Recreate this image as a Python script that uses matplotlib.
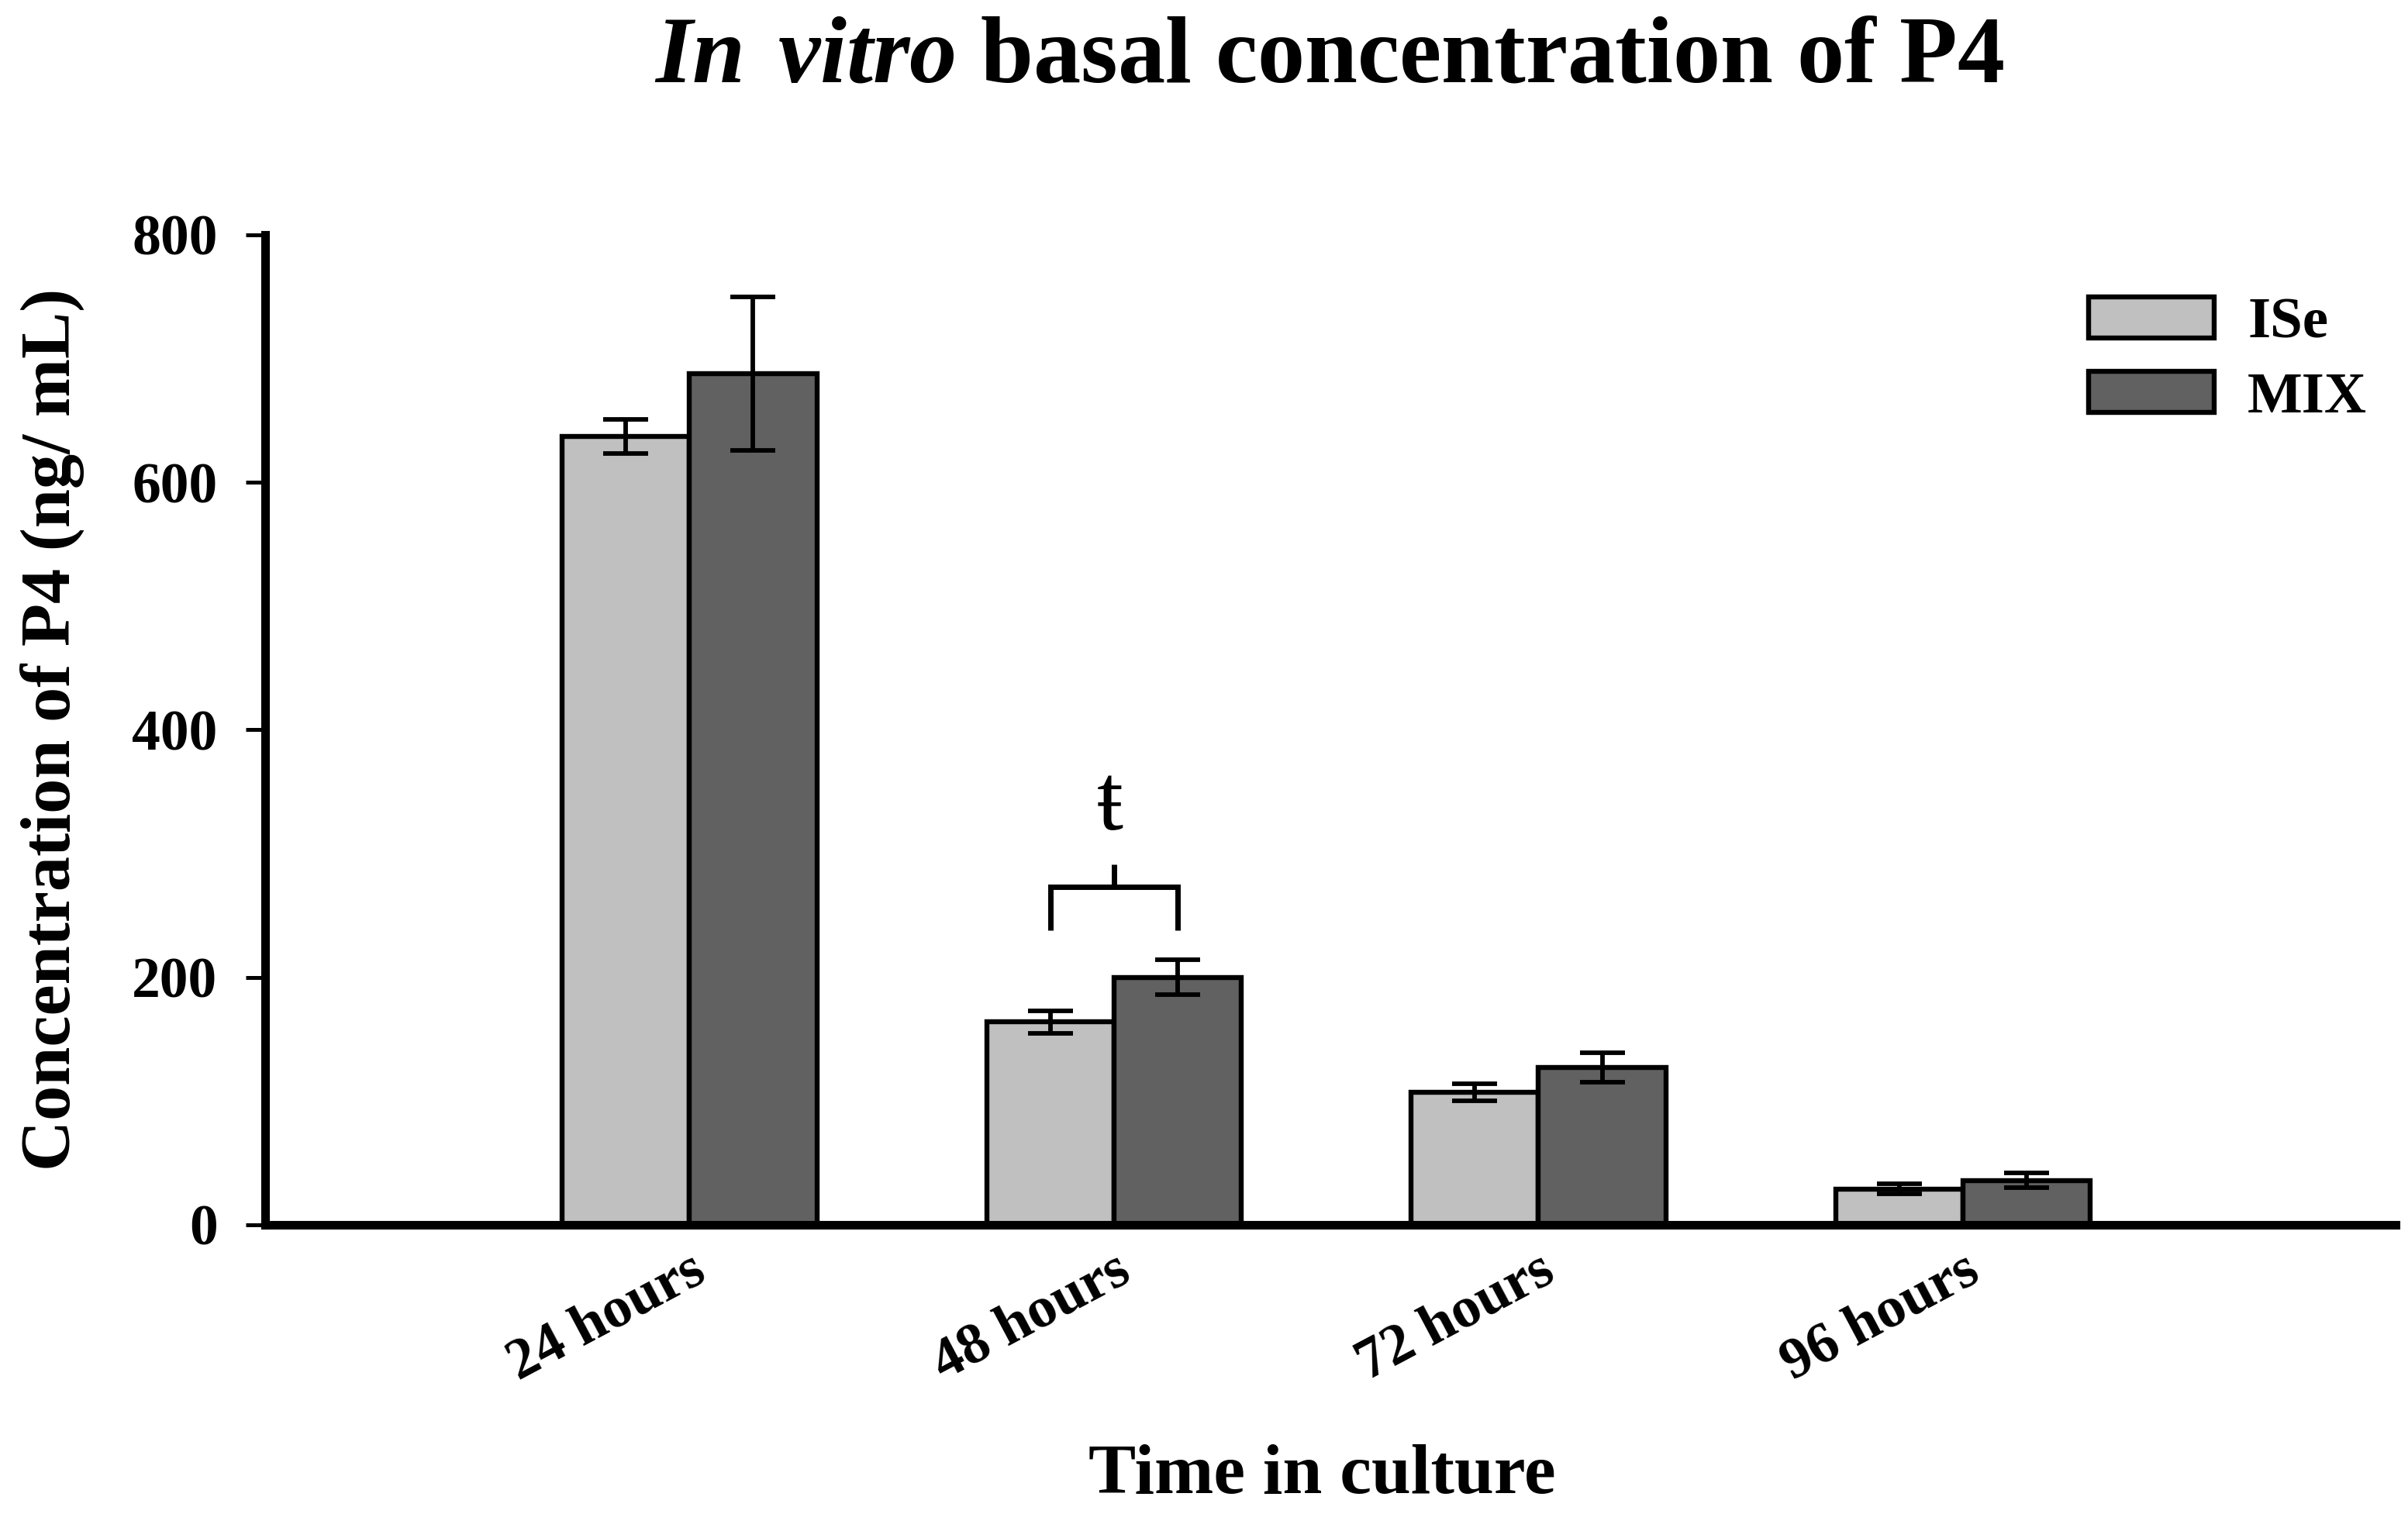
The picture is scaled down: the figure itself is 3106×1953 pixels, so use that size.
"""In vitro basal concentration of P4: grouped bar chart with SEM error bars."""

import matplotlib

matplotlib.use("Agg")
import matplotlib.pyplot as plt
import numpy as np

# data
times = ["24 hours", "48 hours", "72 hours", "96 hours"]
ise_mean = [637, 164, 107, 29]
ise_err = [14, 9, 7, 4]
mix_mean = [688, 200, 127, 36]
mix_err = [62, 14, 12, 6]
series_names = ["ISe", "MIX"]
y_ticks = [0, 200, 400, 600, 800]

# significance mark between ISe and MIX at 48 hours
sig_group = 1
sig_symbol = "ŧ"
sig_bracket_y = 273
sig_leg_drop = 35
sig_stem = 18
sig_text_y = 338

SERIF = ["Liberation Serif", "DejaVu Serif"]
plt.rcParams["font.family"] = SERIF
plt.rcParams["font.weight"] = "bold"
plt.rcParams["mathtext.fontset"] = "custom"
plt.rcParams["mathtext.bfit"] = "Liberation Serif:italic:bold"
plt.rcParams["mathtext.bf"] = "Liberation Serif:bold"
plt.rcParams["mathtext.rm"] = "Liberation Serif:bold"

fig = plt.figure(figsize=(15.53, 9.765), dpi=200)
ax = fig.add_axes([0.110, 0.191, 0.885, 0.654])

x = np.arange(len(times))
width = 0.30
lw_edge = 2.3
err_style = dict(capsize=10.5, elinewidth=2.1, capthick=2.1, ecolor="black")
ax.bar(x - width / 2, ise_mean, width, yerr=ise_err, color="#c0c0c0",
       edgecolor="black", linewidth=lw_edge, label=series_names[0],
       error_kw=err_style)
ax.bar(x + width / 2, mix_mean, width, yerr=mix_err, color="#616161",
       edgecolor="black", linewidth=lw_edge, label=series_names[1],
       error_kw=err_style)

# bracket
xl, xr = sig_group - width / 2, sig_group + width / 2
ax.plot([xl, xl, xr, xr], [sig_bracket_y - sig_leg_drop, sig_bracket_y,
                           sig_bracket_y, sig_bracket_y - sig_leg_drop],
        color="black", lw=2.5, solid_capstyle="butt", solid_joinstyle="miter")
ax.plot([sig_group, sig_group], [sig_bracket_y, sig_bracket_y + sig_stem],
        color="black", lw=2.5, solid_capstyle="butt")
ax.text(sig_group - 0.01, sig_text_y, sig_symbol, ha="center", va="center",
        fontsize=44, fontweight="normal", family=SERIF)

ax.set_xlim(-1.0, 4.02)
ax.set_ylim(0, 800)
ax.set_yticks(y_ticks)
ax.set_yticklabels([str(v) for v in y_ticks], fontsize=26.5, fontweight="bold")
ax.set_xticks(x)
ax.set_xticklabels(times, rotation=28, ha="right", rotation_mode="anchor",
                   fontsize=27, fontweight="bold")
ax.tick_params(axis="x", length=0, pad=9)
ax.tick_params(axis="y", length=9, width=1.8, pad=13)

for side in ["top", "right"]:
    ax.spines[side].set_visible(False)
ax.spines["left"].set_linewidth(4)
ax.spines["bottom"].set_linewidth(4)

ax.set_ylabel("Concentration of P4 (ng/ mL)", fontsize=32.5, fontweight="bold",
              labelpad=22)
fig.text(0.549, 0.025, "Time in culture", ha="center", va="center",
         fontsize=33, fontweight="bold")
fig.text(0.552, 0.961, r"$\mathbfit{In\ vitro}$ basal concentration of P4",
         ha="center", va="center", fontsize=44, fontweight="bold")

leg = ax.legend(loc="upper right", bbox_to_anchor=(1.011, 0.99), frameon=False,
                fontsize=27, handlelength=2.15, handleheight=0.72,
                labelspacing=0.36, handletextpad=0.58)
for t in leg.get_texts():
    t.set_fontweight("bold")

fig.savefig("out.png", dpi=200)
